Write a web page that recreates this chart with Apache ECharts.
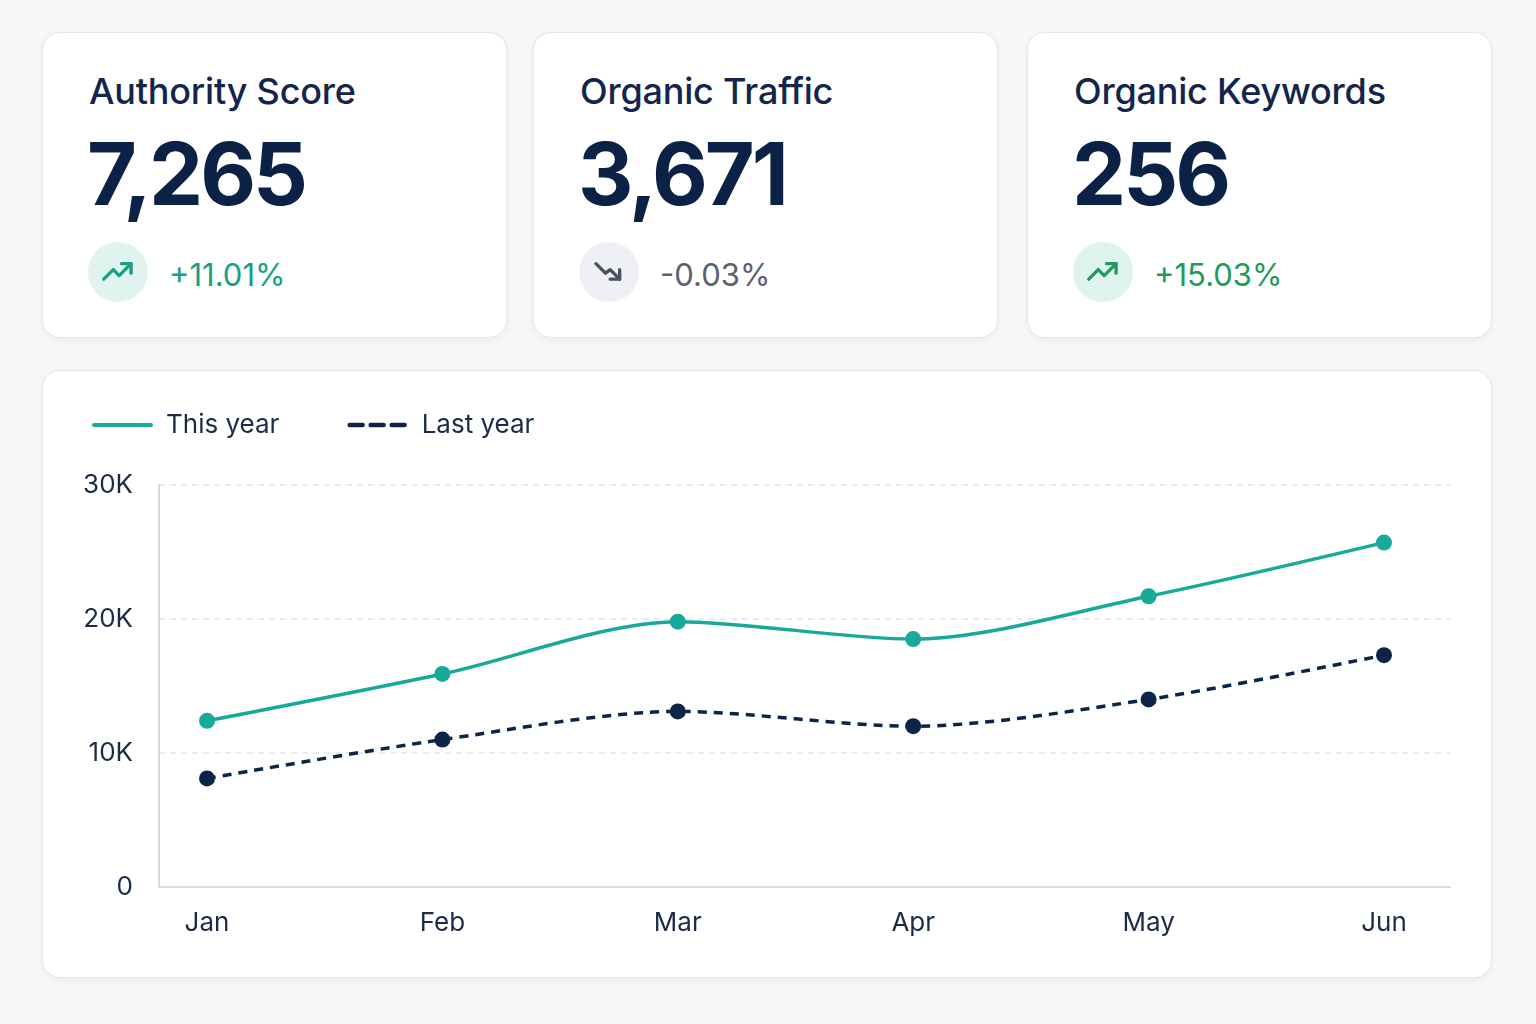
<!DOCTYPE html>
<html lang="en">
<head>
    <meta charset="UTF-8">
    <title>SEO overview</title>
    <script src="https://cdn.jsdelivr.net/npm/echarts@6/dist/echarts.min.js"></script>
</head>
<style type="text/css">
    body{
        margin:0;
        width:1536px;
        height:1024px;
        background:#f6f7f9;
        font-family:Inter, "Noto Sans", sans-serif;
        position:relative;
        overflow:hidden;
    }
    .card{
        position:absolute;
        box-sizing:border-box;
        background:#fff;
        border:1px solid #e4e7ec;
        border-radius:18px;
        box-shadow:0 2px 6px rgba(20,35,70,0.05);
    }
    .kpi{ top:32px; width:465px; height:306px; }
    .kpi .title{
        position:absolute; left:46px; top:40px;
        font-size:36px; line-height:36px; font-weight:500; color:#13254a;
        letter-spacing:-0.2px;
    }
    .kpi .value{
        position:absolute; left:44px; top:98px;
        font-size:86px; line-height:86px; font-weight:700; color:#0b2145;
        letter-spacing:-3px;
    }
    .kpi .badge{
        position:absolute; left:45px; top:209px;
        width:60px; height:60px; border-radius:50%;
    }
    .kpi .badge svg{ position:absolute; left:11px; top:11px; }
    .kpi .delta{
        position:absolute; left:126px; top:226px;
        font-size:31px; line-height:31px; font-weight:400;
    }
    .up .badge{ background:#e1f3ee; }
    .down .badge{ background:#eef0f3; }
    #chart{ left:42px; top:370px; width:1450px; height:608px; }
</style>
<body>
    <div class="card kpi up" style="left:42px">
        <div class="title">Authority Score</div>
        <div class="value" id="v0"></div>
        <div class="badge"><svg width="38" height="38" viewBox="0 0 32 32"><polyline points="4,22 12,14 17,19 27,9" fill="none" stroke="#17a083" stroke-width="2.8" stroke-linejoin="round" stroke-linecap="round"/><polyline points="19,9 27,9 27,17" fill="none" stroke="#17a083" stroke-width="2.8" stroke-linejoin="round" stroke-linecap="round"/></svg></div>
        <div class="delta" id="d0" style="color:#17a083"></div>
    </div>
    <div class="card kpi down" style="left:533px">
        <div class="title">Organic Traffic</div>
        <div class="value" id="v1"></div>
        <div class="badge"><svg width="38" height="38" viewBox="0 0 32 32"><polyline points="5,9 13,17 17,14 25,22" fill="none" stroke="#4a505d" stroke-width="2.8" stroke-linejoin="round" stroke-linecap="round"/><polyline points="25,14 25,22 17,22" fill="none" stroke="#4a505d" stroke-width="2.8" stroke-linejoin="round" stroke-linecap="round"/></svg></div>
        <div class="delta" id="d1" style="color:#5b6170"></div>
    </div>
    <div class="card kpi up" style="left:1027px">
        <div class="title">Organic Keywords</div>
        <div class="value" id="v2"></div>
        <div class="badge"><svg width="38" height="38" viewBox="0 0 32 32"><polyline points="4,22 12,14 17,19 27,9" fill="none" stroke="#1e9a5d" stroke-width="2.8" stroke-linejoin="round" stroke-linecap="round"/><polyline points="19,9 27,9 27,17" fill="none" stroke="#1e9a5d" stroke-width="2.8" stroke-linejoin="round" stroke-linecap="round"/></svg></div>
        <div class="delta" id="d2" style="color:#1e9a5d"></div>
    </div>
    <div class="card" id="chart"></div>
</body>
<script type="text/javascript">
var kpiValues = ['7,265', '3,671', '256'];
var kpiDeltas = ['+11.01%', '-0.03%', '+15.03%'];

var months = ['Jan', 'Feb', 'Mar', 'Apr', 'May', 'Jun'];
var thisYear = [12400, 15900, 19800, 18500, 21700, 25700];
var lastYear = [8100, 11000, 13100, 12000, 14000, 17300];

for (var i = 0; i < kpiValues.length; i++) {
    document.getElementById('v' + i).textContent = kpiValues[i];
    document.getElementById('d' + i).textContent = kpiDeltas[i];
}

var teal = '#17a99a';
var navy = '#0d2449';
var labelColor = '#1b2a46';

option = {
    animation: false,
    legend: {
        left: 44,
        top: 36,
        itemWidth: 57,
        itemHeight: 14,
        itemGap: 68,
        itemStyle: { opacity: 0 },
        textStyle: { fontSize: 26, color: labelColor, fontFamily: 'Inter', padding: [0, 0, 0, 10] },
        data: [
            { name: 'This year', lineStyle: { width: 4, color: teal, type: 'solid', cap: 'round' } },
            { name: 'Last year', lineStyle: { width: 4.5, color: navy, type: [13, 8], cap: 'round' } }
        ]
    },
    grid: [
        // frame: axis lines and split lines
        { left: 116, right: 41, top: 114, bottom: 90 },
        // data
        { left: 164, right: 107, top: 114, bottom: 90 }
    ],
    xAxis: [
        {
            gridIndex: 0, type: 'value', min: 0, max: 1,
            axisLine: { show: true, lineStyle: { color: '#d5d9e2', width: 2 } },
            axisTick: { show: false }, axisLabel: { show: false }, splitLine: { show: false }
        },
        {
            gridIndex: 1, type: 'category', boundaryGap: false, data: months,
            axisLine: { show: false }, axisTick: { show: false },
            axisLabel: { fontSize: 26, color: labelColor, fontFamily: 'Inter', margin: 23 }
        }
    ],
    yAxis: [
        {
            gridIndex: 0, type: 'value', min: 0, max: 30000, interval: 10000,
            axisLine: { show: true, lineStyle: { color: '#d5d9e2', width: 2 } },
            axisTick: { show: false },
            axisLabel: {
                fontSize: 26, color: labelColor, fontFamily: 'Inter', margin: 26,
                formatter: function (v) { return v === 0 ? '0' : (v / 1000) + 'K'; }
            },
            splitLine: { lineStyle: { color: '#e3e6ec', width: 1.5, type: [6, 5] } }
        },
        {
            gridIndex: 1, type: 'value', min: 0, max: 30000, show: false
        }
    ],
    series: [
        {
            name: 'This year', type: 'line', xAxisIndex: 1, yAxisIndex: 1,
            data: thisYear, smooth: 0.3,
            symbol: 'circle', symbolSize: 16,
            lineStyle: { color: teal, width: 3.5 },
            itemStyle: { color: teal }
        },
        {
            name: 'Last year', type: 'line', xAxisIndex: 1, yAxisIndex: 1,
            data: lastYear, smooth: 0.3,
            symbol: 'circle', symbolSize: 16,
            lineStyle: { color: navy, width: 3.5, type: [9, 7] },
            itemStyle: { color: navy }
        }
    ]
};
var myChart = echarts.init(document.getElementById('chart'));
myChart.setOption(option);
</script>
</html>
